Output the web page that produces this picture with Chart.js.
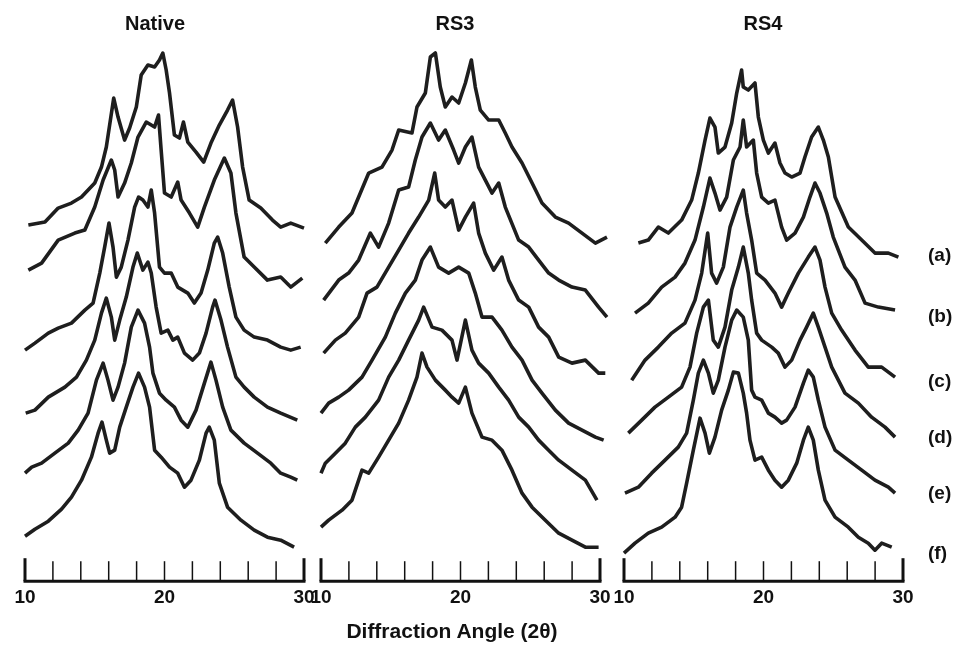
<!DOCTYPE html>
<html>
<head>
<meta charset="utf-8">
<title>XRD patterns - Native, RS3, RS4</title>
<script src="https://cdn.jsdelivr.net/npm/chart.js@4.4.1/dist/chart.umd.min.js"></script>
<style>
    html, body { margin: 0; padding: 0; background: #fff; }
    #wrap {
        position: relative; width: 956px; height: 647px; overflow: hidden;
        font-family: "Liberation Sans", Arial, sans-serif; font-weight: bold; color: #111;
    }
    .panel { position: absolute; top: 0; width: 330px; height: 647px; }
    .txt { position: absolute; white-space: nowrap; transform: translate(-50%, -50%); }
    .lbl { position: absolute; white-space: nowrap; transform: translateY(-50%); font-size: 19px; }
</style>
</head>
<body>
<div id="wrap">
    <div class="panel" style="left:0px"><canvas id="cNative" width="330" height="647"></canvas></div>
    <div class="panel" style="left:296px"><canvas id="cRS3" width="330" height="647"></canvas></div>
    <div class="panel" style="left:599px"><canvas id="cRS4" width="330" height="647"></canvas></div>

    <div class="txt" style="left:155px; top:23px; font-size:20px">Native</div>
    <div class="txt" style="left:455px; top:23px; font-size:20px">RS3</div>
    <div class="txt" style="left:763px; top:23px; font-size:20px">RS4</div>
    <div class="txt" style="left:452px; top:631px; font-size:21px">Diffraction Angle (2θ)</div>
    <div id="labels"></div>
</div>

<script>
// ---- data: [2theta, stacked intensity (a.u.)] ----
const traceNames = ['(a)', '(b)', '(c)', '(d)', '(e)', '(f)'];
const axisTickLabels = [10, 20, 30];

const nativeA = [[10.24,356],[11.43,359],[12.38,373],[13.33,378],[14.05,384],[15.0,398],[15.48,414],[15.83,434],[16.36,483],[16.67,464],[17.14,441],[17.5,453],[17.98,474],[18.33,506],[18.81,516],[19.29,514],[19.64,521],[19.88,528],[20.12,511],[20.36,488],[20.71,446],[21.07,443],[21.36,459],[21.67,439],[22.26,429],[22.81,419],[23.33,438],[23.93,456],[24.52,471],[24.88,481],[25.24,454],[25.6,414],[26.07,381],[26.9,373],[27.74,361],[28.33,354],[29.05,358],[30.0,353]];
const nativeB = [[10.24,311],[11.19,318],[12.38,341],[13.57,348],[14.29,351],[15.0,374],[15.6,401],[16.19,421],[16.43,411],[16.67,384],[17.14,398],[17.62,418],[18.1,444],[18.69,459],[19.29,454],[19.57,466],[19.76,431],[20.0,388],[20.48,384],[20.95,399],[21.19,381],[21.79,368],[22.38,354],[22.86,374],[23.57,401],[24.29,423],[24.76,408],[25.12,368],[25.71,324],[26.43,314],[27.38,301],[28.33,304],[29.05,294],[29.88,303]];
const nativeC = [[10.0,231],[10.71,238],[11.67,248],[12.38,253],[13.33,258],[14.29,271],[14.88,278],[15.36,308],[15.71,334],[16.02,358],[16.31,334],[16.55,304],[16.9,314],[17.38,341],[17.86,374],[18.14,384],[18.45,381],[18.81,374],[19.05,391],[19.29,368],[19.64,314],[20.0,308],[20.48,308],[20.95,294],[21.67,288],[22.14,278],[22.62,288],[23.1,311],[23.57,338],[23.81,344],[24.17,328],[24.64,294],[25.12,264],[25.71,251],[26.43,244],[27.38,241],[28.33,234],[29.05,231],[29.76,234]];
const nativeD = [[10.05,168],[10.71,171],[11.67,184],[12.86,194],[13.69,204],[14.4,221],[15.0,241],[15.48,268],[15.83,283],[16.19,264],[16.43,241],[16.79,261],[17.26,284],[17.74,314],[18.05,328],[18.45,311],[18.81,319],[19.05,308],[19.4,274],[19.76,248],[20.24,251],[20.6,241],[20.95,244],[21.43,228],[22.02,221],[22.5,228],[22.98,248],[23.45,274],[23.62,281],[24.05,261],[24.52,234],[25.12,204],[25.71,194],[26.43,184],[27.38,174],[28.33,168],[29.52,161]];
const nativeE = [[10.0,108],[10.48,114],[11.19,118],[12.14,128],[13.1,138],[13.81,151],[14.52,168],[15.12,201],[15.6,218],[15.95,201],[16.31,181],[16.67,194],[17.14,218],[17.62,254],[18.1,271],[18.57,258],[18.93,234],[19.17,208],[19.64,188],[20.12,181],[20.71,174],[21.19,161],[21.67,154],[22.26,171],[22.86,198],[23.33,219],[23.69,201],[24.17,174],[24.76,151],[25.71,138],[26.67,128],[27.62,118],[28.33,108],[29.05,104],[29.52,101]];
const nativeF = [[10.0,45],[10.71,52],[11.67,60],[12.62,72],[13.33,84],[14.05,101],[14.76,124],[15.24,148],[15.52,159],[15.83,141],[16.07,128],[16.43,131],[16.79,154],[17.26,174],[17.74,194],[18.14,208],[18.57,194],[18.93,174],[19.29,131],[19.76,124],[20.36,114],[20.95,108],[21.43,94],[21.9,101],[22.5,121],[22.98,148],[23.21,154],[23.57,141],[23.93,98],[24.52,74],[25.48,61],[26.43,51],[27.38,44],[28.33,41],[29.29,34]];

const rs3A = [[10.31,338],[11.27,354],[12.22,368],[13.42,408],[14.37,414],[15.09,431],[15.57,451],[16.52,448],[16.88,474],[17.48,488],[17.84,524],[18.2,528],[18.55,494],[18.91,474],[19.39,484],[19.87,478],[20.35,498],[20.78,521],[21.06,494],[21.42,471],[22.02,461],[22.74,461],[23.21,448],[23.69,434],[24.41,418],[25.13,398],[25.84,378],[26.8,364],[27.75,358],[28.71,348],[29.67,338],[30.5,344]];
const rs3B = [[10.19,281],[11.27,301],[11.98,308],[12.7,321],[13.54,348],[14.13,334],[14.85,358],[15.57,391],[16.28,394],[16.76,421],[17.24,444],[17.84,458],[18.43,441],[18.91,451],[19.51,431],[19.87,418],[20.35,434],[20.82,444],[21.3,414],[21.78,401],[22.26,388],[22.74,398],[23.21,374],[24.17,341],[24.89,334],[25.6,321],[26.32,308],[27.04,301],[27.99,294],[28.95,291],[29.9,274],[30.5,264]];
const rs3C = [[10.19,228],[11.03,241],[11.74,248],[12.7,264],[13.3,288],[14.01,294],[14.85,314],[15.57,331],[16.28,348],[17.0,364],[17.72,381],[18.15,408],[18.43,381],[18.91,374],[19.39,381],[19.87,351],[20.35,364],[20.94,378],[21.3,348],[21.78,328],[22.38,311],[22.97,324],[23.45,301],[24.17,281],[24.89,274],[25.6,254],[26.32,244],[27.04,224],[27.99,218],[28.95,221],[29.9,208],[30.38,208]];
const rs3D = [[10.0,168],[10.55,178],[11.27,184],[11.98,191],[12.94,204],[13.66,221],[14.61,244],[15.33,268],[16.05,288],[16.76,301],[17.24,321],[17.84,334],[18.43,314],[19.15,308],[19.87,314],[20.59,308],[21.06,288],[21.54,264],[22.26,264],[22.97,251],[23.69,234],[24.41,221],[25.13,201],[25.84,188],[26.8,171],[27.75,158],[28.71,151],[29.67,144],[30.26,141]];
const rs3E = [[10.0,108],[10.31,118],[11.03,128],[11.74,138],[12.46,154],[13.18,164],[14.13,181],[14.85,204],[15.57,221],[16.28,241],[17.0,261],[17.36,274],[17.96,254],[18.67,251],[19.39,241],[19.75,221],[20.35,261],[20.82,231],[21.3,218],[22.02,208],[22.74,194],[23.45,181],[24.17,164],[24.89,154],[25.6,141],[26.32,131],[27.04,121],[27.99,111],[28.95,101],[29.78,81]];
const rs3F = [[10.0,54],[10.55,61],[11.51,71],[12.22,81],[12.94,111],[13.42,108],[14.13,124],[14.85,141],[15.57,158],[16.28,181],[16.88,204],[17.24,228],[17.6,214],[18.2,201],[18.91,191],[19.39,184],[19.87,178],[20.35,194],[20.82,168],[21.54,144],[22.26,141],[22.97,131],[23.69,111],[24.41,88],[25.13,74],[26.08,61],[27.04,48],[27.99,41],[28.95,34],[29.9,34]];

const rs4A = [[11.03,338],[11.74,341],[12.46,354],[13.18,348],[14.13,361],[14.85,381],[15.33,408],[15.81,441],[16.16,463],[16.52,454],[16.76,428],[17.24,434],[17.72,458],[18.08,488],[18.43,511],[18.55,494],[18.91,491],[19.39,498],[19.63,464],[19.99,441],[20.35,428],[20.82,438],[21.18,418],[21.54,408],[22.02,404],[22.62,408],[22.97,424],[23.45,444],[23.93,454],[24.29,441],[24.65,424],[25.13,384],[26.08,354],[27.04,341],[27.99,328],[28.95,328],[29.67,324]];
const rs4B = [[10.79,268],[11.74,278],[12.7,294],[13.66,304],[14.37,318],[15.09,341],[15.69,374],[16.16,403],[16.52,388],[16.88,371],[17.36,384],[17.84,421],[18.32,434],[18.55,461],[18.79,434],[19.27,441],[19.51,408],[19.87,384],[20.35,378],[20.82,381],[21.3,354],[21.66,341],[22.26,348],[22.86,364],[23.33,384],[23.69,398],[24.05,388],[24.53,368],[25.0,344],[25.84,314],[26.56,301],[27.28,278],[28.23,274],[29.43,271]];
const rs4C = [[10.55,201],[11.51,221],[12.46,234],[13.42,248],[14.37,258],[15.09,281],[15.57,308],[16.0,348],[16.28,308],[16.64,298],[17.12,314],[17.6,354],[18.08,374],[18.55,391],[18.79,368],[19.15,341],[19.51,308],[20.11,301],[20.82,288],[21.3,274],[21.78,288],[22.5,308],[23.21,324],[23.69,334],[24.05,321],[24.41,294],[24.89,268],[25.6,251],[26.56,231],[27.51,214],[28.47,214],[29.43,204]];
const rs4D = [[10.31,148],[11.27,161],[12.22,174],[13.18,184],[14.13,194],[14.73,214],[15.21,248],[15.69,274],[16.05,281],[16.4,241],[16.76,234],[17.24,254],[17.72,291],[18.2,314],[18.55,334],[18.91,308],[19.15,281],[19.51,248],[19.87,241],[20.59,234],[21.06,228],[21.54,214],[22.02,221],[22.62,241],[23.09,254],[23.57,268],[23.93,254],[24.41,234],[24.89,214],[25.84,188],[26.8,178],[27.75,164],[28.71,154],[29.43,144]];
const rs4E = [[10.07,88],[11.03,94],[11.98,108],[12.94,121],[13.89,134],[14.49,148],[14.97,181],[15.33,208],[15.69,221],[16.05,208],[16.4,188],[16.76,201],[17.24,234],[17.72,261],[18.08,271],[18.55,264],[18.91,241],[19.15,191],[19.39,184],[19.87,181],[20.35,168],[20.82,164],[21.3,158],[21.66,161],[22.26,174],[22.86,198],[23.21,211],[23.57,204],[23.93,181],[24.41,154],[25.13,131],[26.08,121],[27.04,111],[27.99,101],[28.95,94],[29.43,88]];
const rs4F = [[10.0,28],[10.79,38],[11.74,48],[12.7,54],[13.66,64],[14.13,74],[14.49,98],[14.97,131],[15.45,163],[15.81,148],[16.12,128],[16.52,144],[17.0,171],[17.48,191],[17.84,209],[18.2,208],[18.55,188],[18.79,168],[19.03,141],[19.39,121],[19.87,124],[20.35,111],[20.82,101],[21.3,94],[21.78,101],[22.38,118],[22.86,141],[23.21,154],[23.57,141],[23.93,111],[24.41,81],[25.13,64],[26.08,54],[26.8,44],[27.51,38],[27.99,31],[28.47,38],[29.19,34]];

const panels = [
    { id: 'cNative', series: [nativeA, nativeB, nativeC, nativeD, nativeE, nativeF] },
    { id: 'cRS3', series: [rs3A, rs3B, rs3C, rs3D, rs3E, rs3F] },
    { id: 'cRS4', series: [rs4A, rs4B, rs4C, rs4D, rs4E, rs4F] }
];

// ---- layout ----
const labelTops = [255, 316, 381, 437, 493, 553];
const labelsEl = document.getElementById('labels');
traceNames.forEach((t, i) => {
    const d = document.createElement('div');
    d.className = 'lbl';
    d.style.left = '928px';
    d.style.top = labelTops[i] + 'px';
    d.textContent = t;
    labelsEl.appendChild(d);
});

// bracket-style axis: baseline with short tick marks pointing up
const bracketAxis = {
    id: 'bracketAxis',
    afterDatasetsDraw(chart) {
        const xs = chart.scales.x, ys = chart.scales.y, ctx = chart.ctx;
        const base = ys.getPixelForValue(0);
        const first = xs.ticks[0].value, last = xs.ticks[xs.ticks.length - 1].value;
        ctx.save();
        ctx.strokeStyle = '#111';
        ctx.lineWidth = 3;
        ctx.beginPath();
        ctx.moveTo(xs.getPixelForValue(first) - 1.5, base);
        ctx.lineTo(xs.getPixelForValue(last) + 1.5, base);
        ctx.stroke();
        xs.ticks.forEach(t => {
            const px = xs.getPixelForValue(t.value);
            const isEnd = t.value === first || t.value === last;
            ctx.lineWidth = isEnd ? 3 : 1.5;
            ctx.beginPath();
            ctx.moveTo(px, base);
            ctx.lineTo(px, base - (isEnd ? 23 : 20));
            ctx.stroke();
        });
        ctx.restore();
    }
};

panels.forEach(p => {
    const datasets = p.series.map((s, i) => ({
        label: traceNames[i],
        data: s,
        borderColor: '#1e1e1e',
        borderWidth: 3.6,
        borderJoinStyle: 'round',
        pointRadius: 0,
        tension: 0,
        clip: false
    }));

    new Chart(document.getElementById(p.id), {
        type: 'line',
        data: { datasets: datasets },
        options: {
            responsive: false,
            animation: false,
            layout: { padding: { left: 25, right: 26, top: 21, bottom: 33 } },
            plugins: { legend: { display: false }, tooltip: { enabled: false } },
            scales: {
                x: {
                    type: 'linear', min: 10, max: 30,
                    grid: { display: false, drawTicks: false },
                    border: { display: false },
                    ticks: {
                        stepSize: 2, autoSkip: false, maxRotation: 0, padding: 5,
                        color: '#111',
                        font: { family: '"Liberation Sans", Arial, sans-serif', size: 19, weight: 'bold' },
                        callback: v => axisTickLabels.includes(v) ? String(v) : ''
                    }
                },
                y: { display: false, min: 0, max: 560 }
            }
        },
        plugins: [bracketAxis]
    });
});
</script>
</body>
</html>
